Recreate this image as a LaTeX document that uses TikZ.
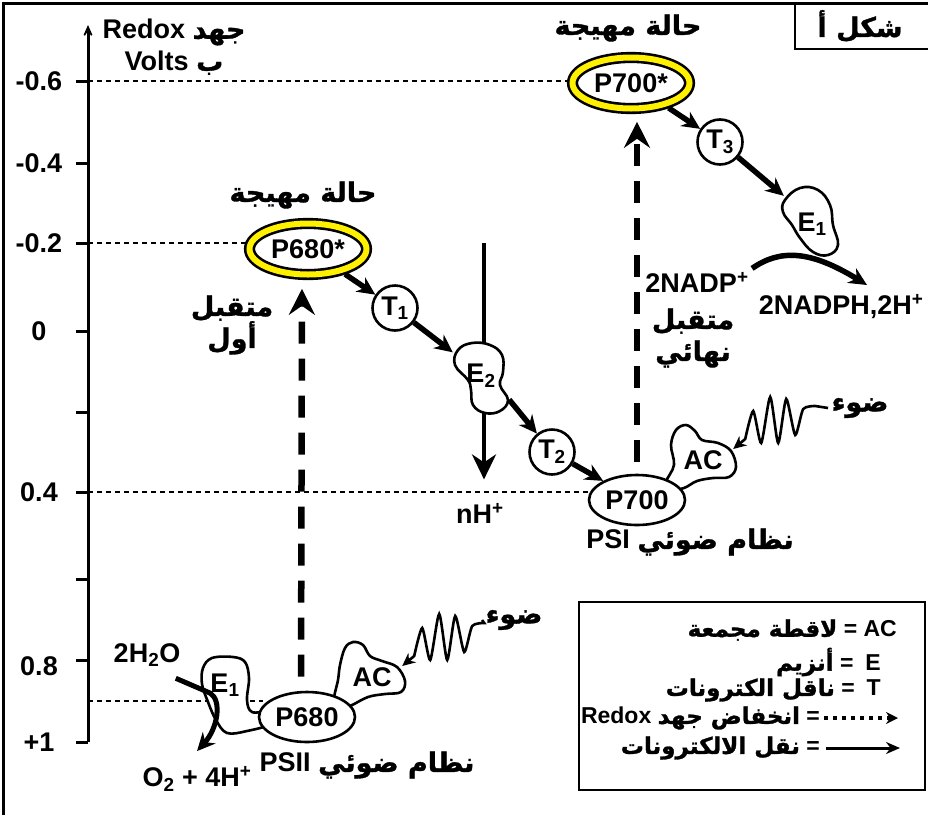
\documentclass[tikz,border=0pt]{standalone}
\usepackage{fontspec}
\setmainfont{Liberation Sans}
\newfontfamily\arabicfont[Script=Arabic, BoldFeatures={FakeBold=1.2}]{DejaVu Sans}
\TeXXeTstate=1
\usetikzlibrary{arrows.meta,positioning,shapes.geometric}
\definecolor{ringyellow}{RGB}{255,240,0}
\newcommand{\ar}[1]{{\arabicfont\bfseries\beginR #1\endR}}

\tikzset{
  every node/.style={font=\bfseries\fontsize{27}{32}\selectfont},
  legtxt/.style={font=\bfseries\fontsize{23}{27}\selectfont, inner sep=0pt},
  refline/.style={line width=1.4pt, dash pattern=on 5pt off 4pt},
  excited/.style={ellipse, draw, line width=2.6pt, double=ringyellow,
    double distance=6pt, fill=white, minimum width=117pt,
    minimum height=51pt, inner sep=0pt},
  pigment/.style={ellipse, draw, line width=2.6pt, fill=white,
    minimum width=96pt, minimum height=50pt, inner sep=0pt},
  carrier/.style={circle, draw, line width=2.6pt, fill=white,
    minimum size=45pt, inner sep=0pt},
  blob/.style={draw, line width=2.6pt, fill=white},
  etrans/.style={line width=5.5pt, -{Stealth[length=18pt,width=17pt]}},
  excite/.style={line width=6.5pt, dash pattern=on 22pt off 15pt,
    -{Stealth[length=26pt,width=26pt,inset=9pt]}},
  wave/.style={line width=2.6pt, {Stealth[length=13pt,width=12pt]}-}
}

\begin{document}
\begin{tikzpicture}[x=1pt, y=-1pt]
  \useasboundingbox (0,0) rectangle (928,814);

  % frame and title
  \draw[line width=3pt] (3,830) -- (3,3) -- (940,3);
  \draw[line width=2.5pt] (795,3) rectangle (940,49);
  \node (title) at (860,26) {\ar{شكل أ}};

  % redox axis
  \coordinate (axbot) at (88,742);
  \coordinate (axtop) at (88,25);
  \draw[line width=3pt, -{Stealth[length=18pt,width=16pt,inset=12pt]}] (axbot) -- (axtop);
  \foreach \y in {81,163,243,331,412,492,579,660,742}
    \draw[line width=3pt] (76,\y) -- (88,\y);
  \foreach \y/\v [count=\i] in {81/-0.6,163/-0.4,243/-0.2,331/0,492/0.4,666/0.8,742/+1}
    \node (val\i) at (39,\y) {\v};
  \node[align=center] (axname) at (174,47) {Redox \ar{جهد}\\Volts \ar{ب}};

  % guide lines
  \draw[refline] (88,81) -- (572,81);
  \draw[refline] (88,243) -- (250,243);
  \draw[refline] (88,492) -- (592,492);
  \draw[refline] (88,701) -- (263,701);

  % texts
  \node (exc1) at (303,195) {\ar{حالة مهيجة}};
  \node (exc2) at (628,28) {\ar{حالة مهيجة}};
  \node[align=center] (acc1) at (232,325) {\ar{متقبل}\\\ar{أول}};
  \node[align=center] (acc2) at (693,338) {\ar{متقبل}\\\ar{نهائي}};
  \node (nadp) at (697,282) {2NADP\textsuperscript{+}};
  \node[anchor=east] (nadph) at (927,307) {2NADPH,2H\textsuperscript{+}};
  \node (nh) at (480,513) {nH\textsuperscript{+}};
  \node (ps1) at (690,542) {PSI \ar{نظام ضوئي}};
  \node (ps2) at (367,765) {PSII \ar{نظام ضوئي}};
  \node (light1) at (860,408) {\ar{ضوء}};
  \node (light2) at (514,620) {\ar{ضوء}};
  \node (water) at (147,655) {2H\textsubscript{2}O};
  \node (oxy) at (197,779) {O\textsubscript{2} + 4H\textsuperscript{+}};

  % proton arrow (behind E2)
  \coordinate (nhtop) at (484,243);
  \draw[line width=4pt, -{Stealth[length=25pt,width=24pt,inset=8pt]}]
    (nhtop) -- ([yshift=20pt]nhtop |- nh.north);

  % protein blobs
  \draw[blob] plot[smooth cycle, tension=0.7] coordinates {(455,365) (458,350)
    (472,343) (490,345) (502,355) (503,372) (500,385) (508,400) (500,411)
    (485,413) (473,405) (471,390) (468,380)};
  \draw[blob] plot[smooth cycle, tension=0.7] coordinates {(785,200) (800,188)
    (818,190) (830,205) (833,225) (838,245) (828,255) (813,252) (800,238)
    (792,225) (783,212)};
  \draw[blob] plot[smooth cycle, tension=0.6] coordinates {(203,668) (212,658)
    (233,657) (245,662) (249,678) (247,700) (252,712) (270,712) (270,724)
    (247,731) (227,733) (216,720) (208,702) (202,684)};
  \draw[blob] plot[smooth cycle, tension=0.6] coordinates {(334,700) (338,680)
    (340,665) (345,648) (353,642) (363,645) (370,656) (382,661) (397,667)
    (405,681) (401,692) (385,694) (368,697) (350,706) (340,708)};
  \draw[blob] plot[smooth cycle, tension=0.6] coordinates {(666,482) (674,465)
    (671,445) (676,430) (686,425) (695,431) (702,440) (718,443) (731,451)
    (736,467) (729,477) (713,478) (697,481) (684,488) (670,490)};

  % molecules
  \node[minimum width=56pt, minimum height=70pt] (e2) at (481,376) {E\textsubscript{2}};
  \node[minimum width=56pt, minimum height=66pt] (e1r) at (812,224) {E\textsubscript{1}};
  \node (e1l) at (225,685) {E\textsubscript{1}};
  \node[minimum width=60pt] (ac1) at (703,460) {AC};
  \node[minimum width=60pt] (ac2) at (372,677) {AC};
  \node[excited] (p700s) at (631,83) {P700*};
  \node[excited] (p680s) at (308,249) {P680*};
  \node[carrier] (t1) at (395,308) {T\textsubscript{1}};
  \node[carrier] (t2) at (552,452) {T\textsubscript{2}};
  \node[carrier] (t3) at (720,142) {T\textsubscript{3}};
  \node[pigment] (p680) at (307,717) {P680};
  \node[pigment] (p700) at (637,500) {P700};

  % electron transport
  \draw[etrans, shorten <=5pt] (p680s) -- (t1);
  \draw[etrans] (t1) -- (e2.140);
  \draw[etrans] (e2.-40) -- (t2);
  \draw[etrans] (t2) -- (p700);
  \draw[etrans, shorten <=5pt] (p700s) -- (t3);
  \draw[etrans] (t3) -- (e1r.135);
  \draw[etrans] (nadp.north east) .. controls (780,249) and (810,250) .. (867,285);
  \draw[etrans, line width=5pt] ([xshift=-8pt,yshift=-8pt]water.south east) -- (210,693)
    .. controls (222,700) and (218,728) .. ([yshift=12pt]oxy.north);

  % excitation
  \draw[excite, shorten <=14pt, shorten >=13pt] ([xshift=-6pt]p680.north) -- ([xshift=-6pt]p680s.south);
  \draw[excite, shorten <=12pt, shorten >=12pt] (p700.north) -- (p700.north |- p700s.south);

  % light
  \begin{scope}[shift={(ac2.20)}]
    \draw[wave] (ac2.20) -- plot[smooth, tension=0.4] coordinates {(12,-10) (20,-38)
      (28,-6) (37,-52) (45,-6) (53,-50) (62,-14) (70,-40) (82,-43)} -- (light2.west);
  \end{scope}
  \begin{scope}[shift={(ac1.20)}]
    \draw[wave] (ac1.20) -- plot[smooth, tension=0.4] coordinates {(12,-10) (20,-38)
      (28,-6) (37,-52) (45,-6) (53,-50) (62,-14) (70,-40) (82,-43)} -- (light1.west);
  \end{scope}

  % legend
  \draw[line width=2.5pt] (579,602) rectangle (925,790);
  \node[legtxt, anchor=east] (legac) at (897,630) {\ar{لاقطة مجمعة} = AC};
  \node[legtxt, anchor=east] (lege) at (881,662) {\ar{أنزيم} =\hspace{12pt}E};
  \node[legtxt, anchor=east] (legt) at (881,690) {\ar{ناقل الكترونات} =\hspace{12pt}T};
  \node[legtxt, anchor=east] (legrx) at (820,718) {Redox \ar{انخفاض جهد} =};
  \coordinate (legrxend) at (898,718);
  \draw[line width=4pt, dash pattern=on 4pt off 5pt, -{Stealth[length=12pt,width=12pt]}] ([xshift=4pt]legrx.east) -- (legrxend);
  \node[legtxt, anchor=east] (legel) at (820,748) {\ar{نقل الالكترونات} =};
  \coordinate (legelend) at (900,748);
  \draw[line width=3pt, -{Stealth[length=14pt,width=12pt]}] ([xshift=6pt]legel.east) -- (legelend);
\end{tikzpicture}
\end{document}
